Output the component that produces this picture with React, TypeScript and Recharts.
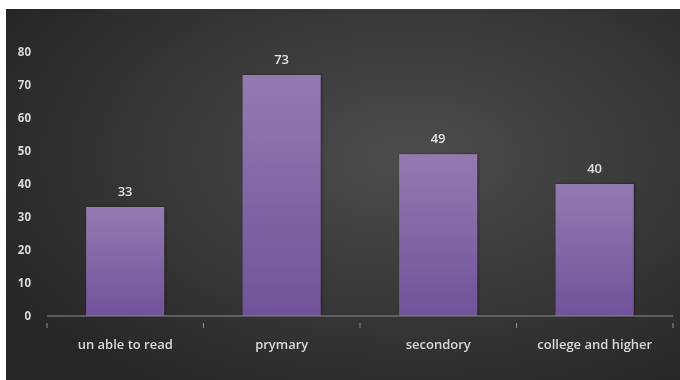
import React from 'react';
import { BarChart, Bar, XAxis, YAxis, LabelList } from 'recharts';

const categories = ['un able to read', 'prymary', 'secondory', 'college and higher'];
const counts = [33, 73, 49, 40];
const yTicks = [0, 10, 20, 30, 40, 50, 60, 70, 80];

const data = categories.map((name, i) => ({ name, value: counts[i] }));

const W = 674;
const H = 371;
const margin = { top: 43, right: 7, left: 0, bottom: 0 };
const Y_W = 41;
const PLOT_W = W - margin.left - margin.right - Y_W;
const BAND = PLOT_W / categories.length;

const font = '"Open Sans", "Liberation Sans", sans-serif';

const CategoryTick = (props: any) => {
    const { x, y, payload, index } = props;
    return (
        <g>
            {index === 0 && (
                <line x1={x - BAND / 2} x2={x - BAND / 2} y1={y - 1} y2={y + 4} stroke="#8c8c8c" />
            )}
            <line x1={x + BAND / 2} x2={x + BAND / 2} y1={y - 1} y2={y + 4} stroke="#8c8c8c" />
            <text x={x} y={y + 25} textAnchor="middle" fill="#d9d9d9" fontSize={13} fontWeight={600} fontFamily={font}>
                {payload.value}
            </text>
        </g>
    );
};

export default function App() {
    return (
        <>
            <style>{'html,body{margin:0;overflow:hidden;background:#fff}'}</style>
            <div style={{ position: 'fixed', left: 6, top: 9, right: 0, bottom: 0, minWidth: W, minHeight: H,
                background: 'radial-gradient(ellipse 70% 75% at 60% 40%, #4d4d4d 0%, #3b3b3b 45%, #262626 100%)' }}>
                <BarChart width={W} height={H} data={data} margin={margin} barCategoryGap="25%">
                    <defs>
                        <linearGradient id="barFill" x1="0" y1="0" x2="0" y2="1">
                            <stop offset="0%" stopColor="#947ab1" />
                            <stop offset="100%" stopColor="#71529a" />
                        </linearGradient>
                        <filter id="shadow" x="-10%" y="-10%" width="120%" height="120%">
                            <feDropShadow dx="1" dy="0" stdDeviation="1.5" floodColor="#000" floodOpacity="0.45" />
                        </filter>
                    </defs>
                    <XAxis dataKey="name" height={64} stroke="#8c8c8c" tickLine={false} interval={0}
                        tick={<CategoryTick />} />
                    <YAxis width={Y_W} domain={[0, 80]} ticks={yTicks} interval={0} axisLine={false}
                        tickLine={false} tickSize={0} tickMargin={16}
                        tick={{ fill: '#d9d9d9', fontSize: 11.5, fontWeight: 700, fontFamily: font }} />
                    <Bar dataKey="value" fill="url(#barFill)" filter="url(#shadow)" isAnimationActive={false}>
                        <LabelList dataKey="value" position="top" offset={11}
                            style={{ fill: '#e0e0e0', fontSize: 13, fontWeight: 600, fontFamily: font }} />
                    </Bar>
                </BarChart>
            </div>
        </>
    );
}
